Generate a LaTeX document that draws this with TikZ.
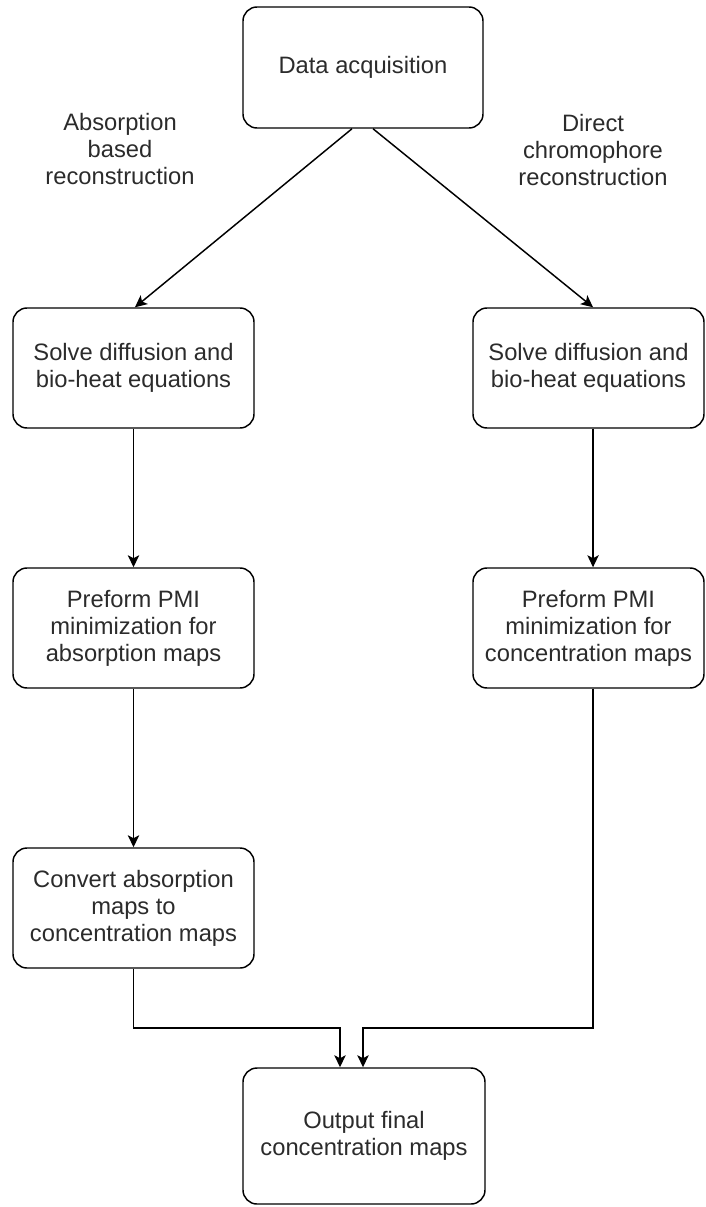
\documentclass[tikz,border=0pt]{standalone}
\usepackage{fontspec}
\setmainfont{Liberation Sans}
\usetikzlibrary{arrows.meta}
\definecolor{txt}{HTML}{2B2B2B}
\begin{document}
\begin{tikzpicture}[x=0.75pt,y=-0.75pt,
  box/.style={draw, line width=1.1pt, rounded corners=10.5pt, align=center,
    font=\fontsize{17.8}{20.3}\selectfont, text=txt, inner sep=0pt},
  lbl/.style={align=center, font=\fontsize{17.8}{20.3}\selectfont, text=txt, inner sep=0pt},
  arr/.style={-{Stealth[length=9pt,width=8.5pt,inset=2.2pt]}, line width=1.1pt}]
\useasboundingbox (0,0) rectangle (706,1207);
\node[box, minimum width=180pt, minimum height=90.75pt] (data) at (363,67.5) {Data acquisition};
\node[lbl] (labA) at (120,149) {Absorption\\based\\reconstruction};
\node[lbl] (labD) at (593,150) {Direct\\chromophore\\reconstruction};
\node[box, minimum width=180.75pt, minimum height=90pt] (lb1) at (133.5,368) {Solve diffusion and\\bio-heat equations};
\node[box, minimum width=173.25pt, minimum height=90pt] (rb1) at (588.5,368) {Solve diffusion and\\bio-heat equations};
\node[box, minimum width=180.75pt, minimum height=90pt] (lb2) at (133.5,628) {Preform PMI\\minimization for\\absorption maps};
\node[box, minimum width=173.25pt, minimum height=90pt] (rb2) at (588.5,628) {Preform PMI\\minimization for\\concentration maps};
\node[box, minimum width=180.75pt, minimum height=90pt] (lb3) at (133.5,908) {Convert absorption\\maps to\\concentration maps};
\node[box, minimum width=181.5pt, minimum height=102pt] (out) at (364,1136) {Output final\\concentration maps};
\coordinate (jl) at (340,1028);
\coordinate (jr) at (363,1028);
\draw[arr] ([xshift=-8.25pt]data.south) -- ([xshift=1.1pt]lb1.north);
\draw[arr] ([xshift=7.5pt]data.south) -- ([xshift=3.4pt]rb1.north);
\draw[arr] (lb1.south) -- (lb2.north);
\draw[arr] ([xshift=3.4pt]rb1.south) -- ([xshift=3.4pt]rb2.north);
\draw[arr] (lb2.south) -- (lb3.north);
\draw[arr] (lb3.south) |- (jl) -- (jl |- out.north);
\draw[arr] ([xshift=3.4pt]rb2.south) |- (jr) -- (jr |- out.north);
\end{tikzpicture}
\end{document}
